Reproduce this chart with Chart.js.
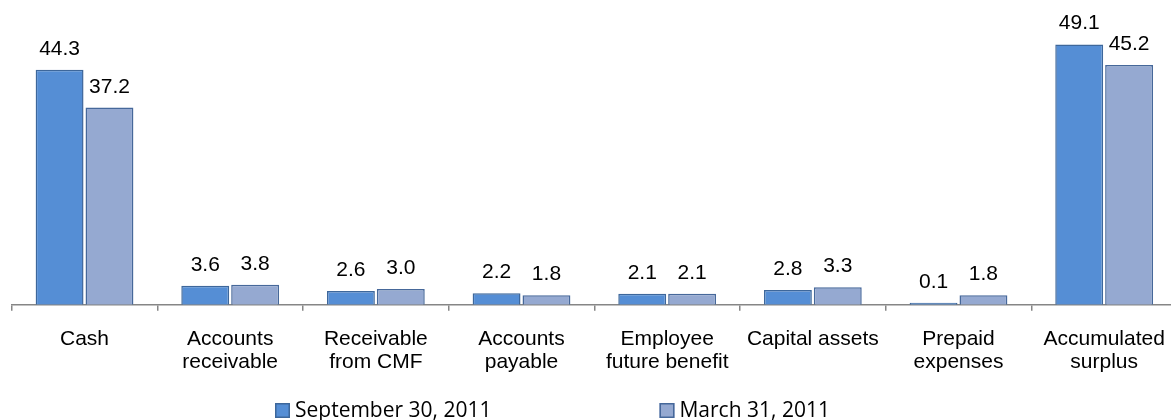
<!DOCTYPE html>
<html>
<head>
<meta charset="utf-8">
<title>Balance sheet comparison</title>
<script src="https://cdn.jsdelivr.net/npm/chart.js@4.4.0/dist/chart.umd.min.js"></script>
<style>
  html, body { margin: 0; padding: 0; background: #fff; overflow: hidden; }
  #wrap { width: 1182px; height: 420px; position: relative; }
</style>
</head>
<body>
<div id="wrap"><canvas id="balanceChart"></canvas></div>
<script>
// Categories (multi-line where the label wraps)
const categories = [
    'Cash',
    ['Accounts', 'receivable'],
    ['Receivable', 'from CMF'],
    ['Accounts', 'payable'],
    ['Employee', 'future benefit'],
    'Capital assets',
    ['Prepaid', 'expenses'],
    ['Accumulated', 'surplus']
];
const seriesNames = ['September 30, 2011', 'March 31, 2011'];
const sept2011 = [44.3, 3.6, 2.6, 2.2, 2.1, 2.8, 0.1, 49.1];
const march2011 = [37.2, 3.8, 3.0, 1.8, 2.1, 3.3, 1.8, 45.2];

const AXIS_GREY = '#868686';
const LABEL_FONT = '"Liberation Sans", Arial, sans-serif';

// Value printed above every bar
const valueLabels = {
    id: 'valueLabels',
    afterDatasetsDraw(chart) {
        const ctx = chart.ctx;
        ctx.save();
        ctx.font = '21px ' + LABEL_FONT;
        ctx.fillStyle = '#000';
        ctx.textAlign = 'center';
        ctx.textBaseline = 'alphabetic';
        chart.data.datasets.forEach((ds, i) => {
            chart.getDatasetMeta(i).data.forEach((bar, j) => {
                ctx.fillText(ds.data[j].toFixed(1), bar.x, bar.y - 15);
            });
        });
        ctx.restore();
    }
};

// Legend row along the bottom edge
const bottomLegend = {
    id: 'bottomLegend',
    afterDraw(chart, args, opts) {
        const ctx = chart.ctx;
        const box = opts.boxSize;
        const baseline = chart.height - opts.bottom;
        let x = opts.left;
        ctx.save();
        ctx.font = opts.font;
        ctx.textBaseline = 'alphabetic';
        ctx.textAlign = 'left';
        chart.data.datasets.forEach(ds => {
            const top = baseline - box + 1;
            ctx.fillStyle = ds.backgroundColor;
            ctx.fillRect(x, top, box, box);
            ctx.strokeStyle = ds.borderColor;
            ctx.lineWidth = 1.5;
            ctx.strokeRect(x + 0.75, top + 0.75, box - 1.5, box - 1.5);
            ctx.fillStyle = '#000';
            ctx.fillText(ds.label, x + box + opts.textGap, baseline);
            x += box + opts.textGap + ctx.measureText(ds.label).width + opts.itemGap;
        });
        ctx.restore();
    }
};

new Chart(document.getElementById('balanceChart'), {
    type: 'bar',
    data: {
        labels: categories,
        datasets: [
            {
                label: seriesNames[0],
                data: sept2011,
                backgroundColor: '#558ED5',
                borderColor: '#3D679B',
                borderWidth: 1.5,
                minBarLength: 2,
                barPercentage: 0.96,
                categoryPercentage: 0.685
            },
            {
                label: seriesNames[1],
                data: march2011,
                backgroundColor: '#95A9D1',
                borderColor: '#46689A',
                borderWidth: 1.5,
                minBarLength: 2,
                barPercentage: 0.96,
                categoryPercentage: 0.685
            }
        ]
    },
    options: {
        responsive: true,
        maintainAspectRatio: false,
        animation: false,
        layout: {
            padding: { left: 11.7, right: 2.3, top: 13.1, bottom: 29 }
        },
        plugins: {
            legend: { display: false },
            tooltip: { enabled: false },
            bottomLegend: {
                left: 275,
                bottom: 3,
                boxSize: 15,
                textGap: 5,
                itemGap: 168,
                font: '21px "Open Sans", sans-serif'
            }
        },
        scales: {
            x: {
                offset: true,
                grid: {
                    display: true,
                    offset: true,
                    drawOnChartArea: false,
                    drawTicks: true,
                    tickLength: 6,
                    color: AXIS_GREY,
                    lineWidth: 1.5
                },
                border: { display: true, color: AXIS_GREY, width: 1.5 },
                ticks: {
                    color: '#000',
                    padding: 17,
                    maxRotation: 0,
                    autoSkip: false,
                    font: { family: LABEL_FONT, size: 21, lineHeight: 1.1 }
                }
            },
            y: {
                display: false,
                min: 0,
                max: 55
            }
        }
    },
    plugins: [valueLabels, bottomLegend]
});
</script>
</body>
</html>
